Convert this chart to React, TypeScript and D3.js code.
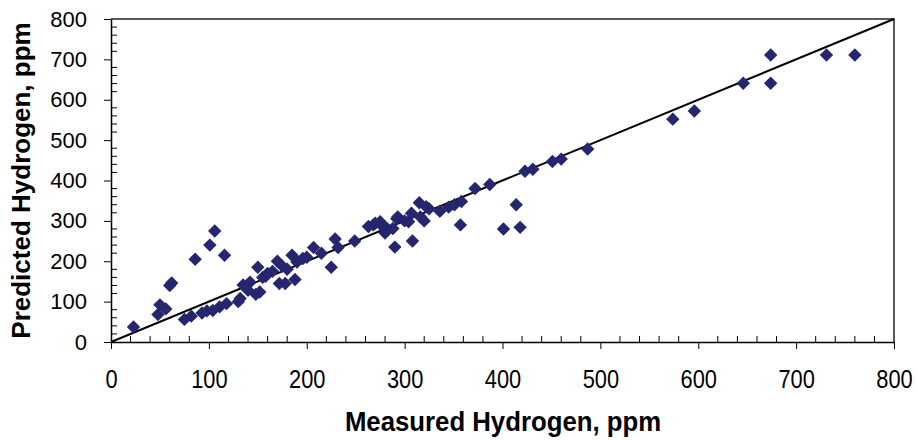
import { useRef, useEffect } from 'react';
import * as d3 from 'd3';

// measured vs predicted hydrogen, ppm
const measured = [
  23, 48, 50, 56, 60, 62, 75, 82, 86, 93, 98, 101, 104, 106, 111, 116, 118,
  130, 132, 135, 140, 142, 148, 150, 152, 155, 158, 160, 165, 170, 172, 175, 178, 180, 185, 188, 190, 196, 200,
  207, 215, 225, 229, 232, 249, 263, 268, 270, 275, 278, 280, 282, 288, 290, 292, 293, 300, 304,
  307, 308, 315, 316, 320, 322, 325, 336, 345, 351, 358, 357, 372, 387,
  401, 414, 418, 423, 431, 451, 460, 487, 574, 596, 646, 674, 674, 731, 760,
];
const predicted = [
  37, 68, 92, 82, 140, 146, 56, 64, 205, 72, 77, 240, 78, 275, 87, 215, 95,
  100, 108, 141, 128, 148, 118, 185, 124, 160, 163, 170, 175, 200, 145, 188, 145, 180, 215, 155, 198, 207, 210,
  234, 220, 185, 255, 234, 250, 286, 290, 294, 298, 285, 270, 281, 281, 235, 305, 310, 300, 298,
  319, 250, 345, 310, 300, 335, 330, 324, 334, 340, 348, 290, 380, 390,
  280, 340, 284, 423, 428, 447, 453, 478, 552, 572, 641, 711, 641, 711, 711,
];
const majorTicks = [0, 100, 200, 300, 400, 500, 600, 700, 800];
const minorTicks = d3.range(20, 800, 20).filter((v) => v % 100 !== 0);
const xTitle = 'Measured Hydrogen, ppm';
const yTitle = 'Predicted Hydrogen, ppm';

const W = 918;
const H = 440;
const font = 'Arial, "Liberation Sans", sans-serif';

export default function App() {
  const svgRef = useRef<SVGSVGElement>(null);

  useEffect(() => {
    if (!svgRef.current) return;
    const el = svgRef.current;
    d3.select(el).selectAll('*').remove();

    const margin = { top: 19, right: 24, bottom: 98, left: 111 };
    const w = W - margin.left - margin.right;
    const h = H - margin.top - margin.bottom;

    const x = d3.scaleLinear().domain([0, 800]).range([0, w]);
    const y = d3.scaleLinear().domain([0, 800]).range([h, 0]);

    const svg = d3.select(el).append('g')
      .attr('transform', `translate(${margin.left},${margin.top})`);

    // plot frame (top + right)
    svg.append('path')
      .attr('d', `M0,0H${w}V${h}`)
      .attr('fill', 'none').attr('stroke', '#222').attr('stroke-width', 1.5);

    // minor ticks point inward
    svg.append('g').selectAll('line').data(minorTicks).join('line')
      .attr('x1', (d) => x(d)).attr('x2', (d) => x(d))
      .attr('y1', h).attr('y2', h - 6)
      .attr('stroke', '#000').attr('stroke-width', 1);
    svg.append('g').selectAll('line').data(minorTicks).join('line')
      .attr('y1', (d) => y(d)).attr('y2', (d) => y(d))
      .attr('x1', 0).attr('x2', 6)
      .attr('stroke', '#000').attr('stroke-width', 1);

    const xAxis = svg.append('g').attr('transform', `translate(0,${h})`)
      .call(d3.axisBottom(x).tickValues(majorTicks).tickSize(7).tickSizeOuter(0).tickPadding(21));
    const yAxis = svg.append('g')
      .call(d3.axisLeft(y).tickValues(majorTicks).tickSize(7).tickSizeOuter(0).tickPadding(17));

    [xAxis, yAxis].forEach((g) => {
      g.select('.domain').attr('stroke', '#000').attr('stroke-width', 1.5);
      g.selectAll('.tick line').attr('stroke', '#000').attr('stroke-width', 1);
      g.selectAll('.tick text').attr('font-family', font).attr('font-size', 22).attr('fill', '#000');
    });
    // x labels are drawn taller and narrower in the original
    xAxis.selectAll('.tick text').attr('font-size', 26).attr('transform', 'scale(0.84,1)');

    // 1:1 line
    svg.append('line')
      .attr('x1', x(0)).attr('y1', y(0)).attr('x2', x(800)).attr('y2', y(800))
      .attr('stroke', '#000').attr('stroke-width', 2);

    const diamond = d3.symbol(d3.symbolSquare, 90);
    svg.append('g').selectAll('path').data(measured).join('path')
      .attr('d', diamond)
      .attr('transform', (d, i) => `translate(${x(d)},${y(predicted[i])}) rotate(45)`)
      .attr('fill', '#26266f');

    d3.select(el).append('text')
      .attr('transform', 'translate(503,431) scale(0.92,1)')
      .attr('text-anchor', 'middle')
      .attr('font-family', font).attr('font-weight', 'bold').attr('font-size', 28)
      .text(xTitle);

    d3.select(el).append('text')
      .attr('transform', `translate(30,${margin.top + h / 2}) rotate(-90)`)
      .attr('text-anchor', 'middle')
      .attr('font-family', font).attr('font-weight', 'bold').attr('font-size', 26)
      .text(yTitle);
  }, []);

  return (
    <svg ref={svgRef} width={W} height={H}
      style={{ position: 'absolute', left: 0, top: 0, background: '#fff' }} />
  );
}
